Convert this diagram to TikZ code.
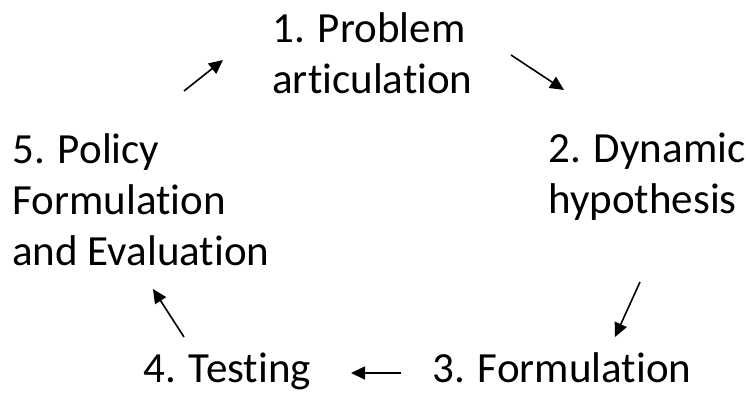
\documentclass[tikz,border=0pt]{standalone}
\usepackage{fontspec}
\setmainfont{Carlito}[Ligatures=NoCommon]
\usetikzlibrary{arrows.meta}

\begin{document}
\begin{tikzpicture}[x=0.5pt, y=-0.5pt,
  lbl/.style={anchor=base west, align=left, inner sep=0pt,
    font=\fontsize{21.5}{25.5}\selectfont},
  arr/.style={line width=0.8pt, -{Triangle[length=7pt,width=6.5pt]}}]
\useasboundingbox (0,0) rectangle (746,397);

\node (prob) [lbl] at (272,93) {1. Problem\\articulation};
\node (dyn) [lbl] at (548,213) {2. Dynamic\\hypothesis};
\node (form) [lbl] at (432,382) {3. Formulation};
\node (test) [lbl] at (143,382) {4. Testing};
\node (pol) [lbl] at (12,265) {5. Policy\\Formulation\\and Evaluation};

\coordinate (A) at (511,55);
\coordinate (B) at (564,90);
\coordinate (C) at (640,282);
\coordinate (D) at (615,337);
\coordinate (E) at (401,373);
\coordinate (F) at (351,373);
\coordinate (G) at (184,337);
\coordinate (H) at (153,289);
\coordinate (I) at (184,91);
\coordinate (J) at (223,60);

\draw [arr] (A)--(B);
\draw [arr] (C)--(D);
\draw [arr] (E)--(F);
\draw [arr] (G)--(H);
\draw [arr] (I)--(J);

\end{tikzpicture}
\end{document}
